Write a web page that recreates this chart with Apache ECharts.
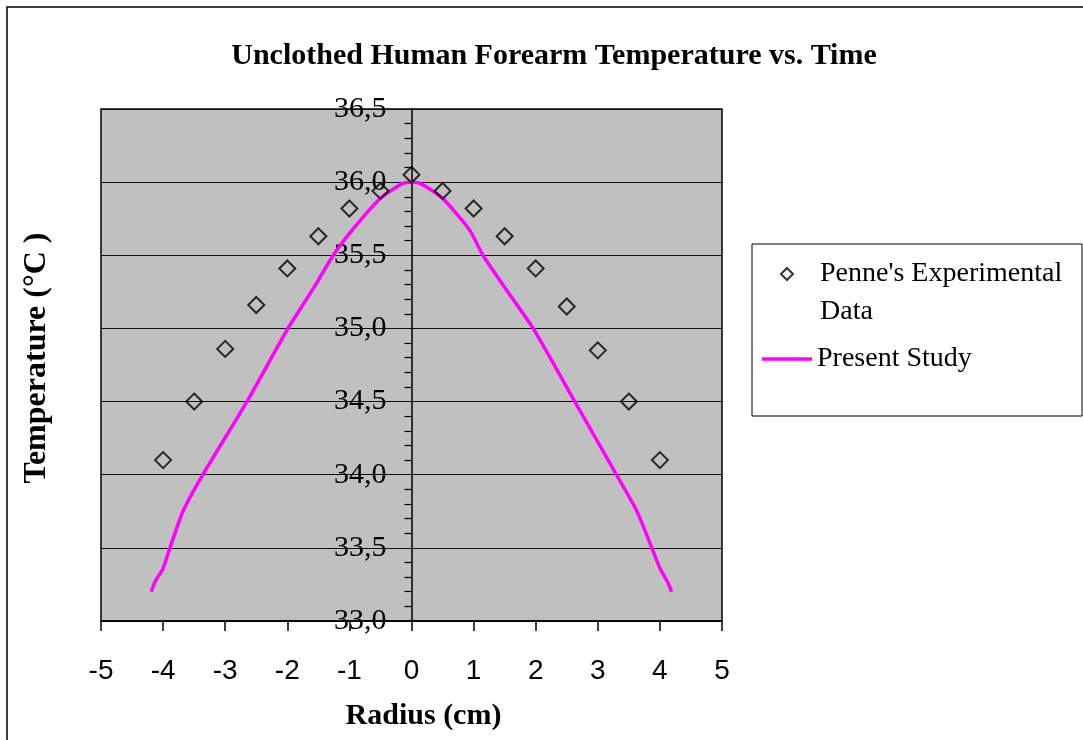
<!DOCTYPE html>
<html>
<head>
<meta charset="utf-8">
<script src="https://cdn.jsdelivr.net/npm/echarts@6/dist/echarts.min.js"></script>
<style>html,body{margin:0;padding:0;background:#fff;}#c{width:1083px;height:740px;}</style>
</head>
<body>
<div id="c"></div>
<script>
var titleText = 'Unclothed Human Forearm Temperature vs. Time';
var xName = 'Radius (cm)';
var yName = 'Temperature (°C )';
var seriesNames = ["Penne's Experimental Data", 'Present Study'];

var expX = [-4, -3.5, -3, -2.5, -2, -1.5, -1, -0.5, 0, 0.5, 1, 1.5, 2, 2.5, 3, 3.5, 4];
var expY = [34.1, 34.5, 34.86, 35.16, 35.41, 35.63, 35.82, 35.94, 36.05, 35.94, 35.82, 35.63, 35.41, 35.15, 34.85, 34.5, 34.1];

var studyX = [-4.19, -4.13, -4.0, -3.89, -3.68, -3.36, -2.65, -1.99, -1.6, -1.26, -0.94, -0.5, -0.15, 0, 0.15, 0.5, 0.94, 1.15, 1.6, 1.96, 2.63, 3.3, 3.63, 3.87, 4.0, 4.12, 4.19];
var studyY = [33.2, 33.27, 33.36, 33.5, 33.75, 34.0, 34.5, 35.0, 35.26, 35.5, 35.68, 35.89, 35.99, 36.0, 35.99, 35.89, 35.67, 35.5, 35.22, 35.0, 34.5, 34.0, 33.75, 33.5, 33.36, 33.27, 33.2];

var expData = expX.map(function (x, i) { return [x, expY[i]]; });
var studyData = studyX.map(function (x, i) { return [x, studyY[i]]; });

var serif = '"Liberation Serif", "Times New Roman", serif';
var sans = '"Liberation Sans", Arial, sans-serif';

var chart = echarts.init(document.getElementById('c'));
chart.setOption({
  backgroundColor: '#fff',
  animation: false,
  title: {
    text: titleText,
    left: 549, top: 36, textAlign: 'center',
    textStyle: { fontFamily: serif, fontWeight: 'bold', fontSize: 30, color: '#000' }
  },
  graphic: [
    { type: 'rect', shape: { x: 7, y: 7, width: 1100, height: 800 }, style: { fill: 'none', stroke: '#000', lineWidth: 1.5 }, silent: true },
    { type: 'rect', shape: { x: 752, y: 244, width: 330, height: 172 }, style: { fill: '#fff', stroke: '#000', lineWidth: 1 }, silent: true, z: -1 }
  ],
  legend: [
    {
      data: [seriesNames[0]],
      left: 780, top: 217, padding: 0,
      itemWidth: 12, itemHeight: 12, itemGap: 0,
      formatter: function () { return " \nPenne's Experimental\nData"; },
      textStyle: { fontFamily: serif, fontSize: 28, color: '#000', lineHeight: 38, padding: [0, 0, 0, 22] }
    },
    {
      data: [{ name: seriesNames[1], icon: 'rect' }],
      left: 762, top: 345, padding: 0,
      itemWidth: 50, itemHeight: 3.5,
      textStyle: { fontFamily: serif, fontSize: 28, color: '#000' }
    }
  ],
  grid: {
    left: 101, right: 361, top: 109, bottom: 119,
    containLabel: false, outerBoundsMode: 'none',
    show: true, backgroundColor: '#c0c0c0', borderColor: '#000', borderWidth: 1.5
  },
  xAxis: {
    type: 'value', min: -5, max: 5, interval: 1,
    name: xName, nameLocation: 'middle', nameGap: 80,
    nameTextStyle: { fontFamily: serif, fontWeight: 'bold', fontSize: 30, color: '#000', padding: [0, 0, 0, 24] },
    axisLine: { show: true, onZero: false, lineStyle: { color: '#000', width: 1.5 } },
    axisTick: { show: true, inside: false, length: 10, lineStyle: { color: '#000', width: 1.5 } },
    axisLabel: { fontFamily: sans, fontSize: 28, color: '#000', margin: 36 },
    splitLine: { show: false }
  },
  yAxis: {
    type: 'value', min: 33, max: 36.5, interval: 0.5,
    position: 'left', offset: -310.5,
    name: yName, nameLocation: 'middle', nameGap: 359, nameRotate: 90,
    nameTextStyle: { fontFamily: serif, fontWeight: 'bold', fontSize: 32, color: '#000', padding: [0, 0, 0, 14] },
    axisLine: { show: true, onZero: false, lineStyle: { color: '#000', width: 1.5 } },
    axisTick: { show: false },
    minorTick: { show: true, splitNumber: 5, length: 7, lineStyle: { color: '#000', width: 1.2 } },
    axisLabel: {
      fontFamily: serif, fontSize: 30, color: '#000', margin: 25,
      formatter: function (v) { return v.toFixed(1).replace('.', ','); }
    },
    splitLine: { show: true, lineStyle: { color: '#111', width: 1.2 } }
  },
  series: [
    {
      name: seriesNames[0], type: 'scatter', data: expData,
      symbol: 'diamond', symbolSize: 16,
      itemStyle: { color: 'rgba(0,0,0,0)', borderColor: '#000', borderWidth: 2 },
      z: 3
    },
    {
      name: seriesNames[1], type: 'line', data: studyData,
      symbol: 'none', showSymbol: false, smooth: 0.2,
      lineStyle: { color: '#ff00ff', width: 3.5 },
      itemStyle: { color: '#ff00ff' },
      z: 2
    }
  ]
});
</script>
</body>
</html>
